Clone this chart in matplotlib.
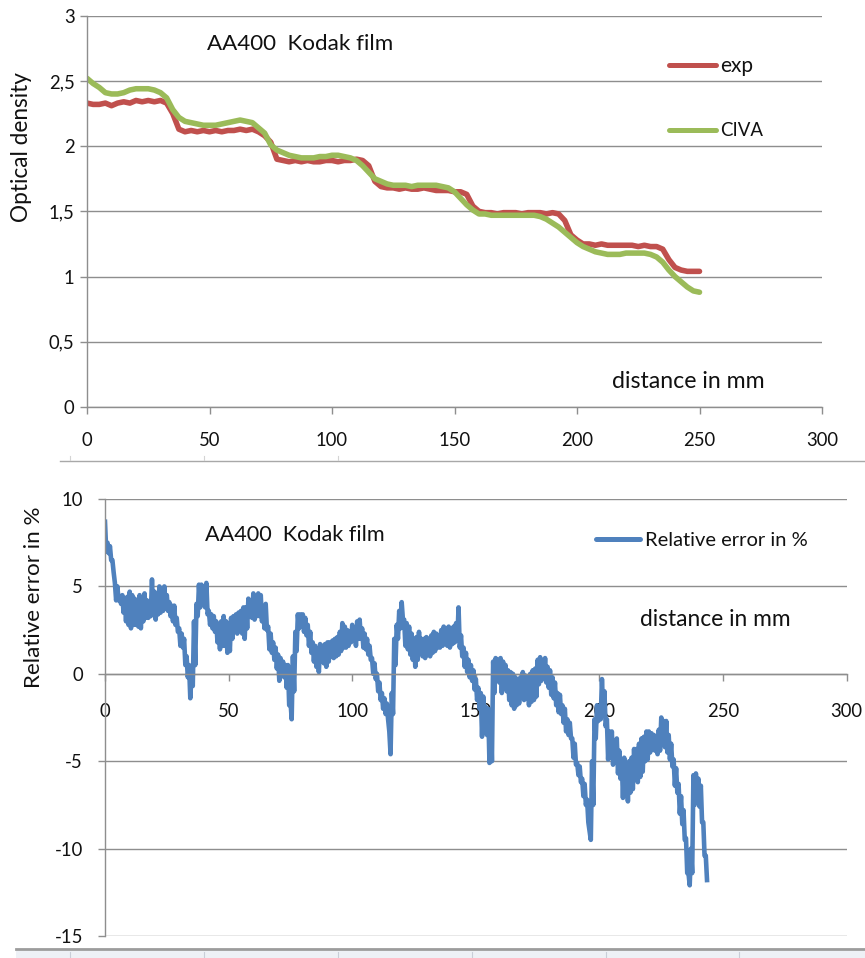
import numpy as np
import matplotlib
matplotlib.use('Agg')
import matplotlib.pyplot as plt
from matplotlib.lines import Line2D
from matplotlib.patches import Rectangle

plt.rcParams['font.family'] = ['Lato', 'DejaVu Sans']

# ---------------- data ----------------
x_ticks = [0, 50, 100, 150, 200, 250, 300]
od_ticks = [0, 0.5, 1, 1.5, 2, 2.5, 3]
od_tick_labels = ['0', '0,5', '1', '1,5', '2', '2,5', '3']
err_ticks = [10, 5, 0, -5, -10, -15]
err_tick_labels = ['10', '5', '0', '-5', '-10', '-15']

# optical density, sampled every 2.5 mm from 0 to 250 mm
od_x = np.arange(0, 250.01, 2.5)
exp_od = [2.33, 2.32, 2.32, 2.33, 2.31, 2.33, 2.34, 2.33, 2.35, 2.34,
          2.35, 2.34, 2.35, 2.33, 2.25, 2.13, 2.11, 2.12, 2.11, 2.12,
          2.11, 2.12, 2.11, 2.12, 2.12, 2.13, 2.12, 2.13, 2.11, 2.08,
          2.03, 1.90, 1.89, 1.88, 1.89, 1.88, 1.89, 1.88, 1.88, 1.89,
          1.89, 1.88, 1.89, 1.89, 1.90, 1.89, 1.85, 1.73, 1.69, 1.68,
          1.68, 1.67, 1.68, 1.67, 1.67, 1.68, 1.67, 1.66, 1.66, 1.66,
          1.65, 1.65, 1.63, 1.54, 1.50, 1.49, 1.49, 1.48, 1.49, 1.49,
          1.49, 1.48, 1.49, 1.49, 1.49, 1.48, 1.49, 1.48, 1.43, 1.32,
          1.28, 1.25, 1.25, 1.24, 1.25, 1.24, 1.24, 1.24, 1.24, 1.24,
          1.23, 1.24, 1.23, 1.23, 1.21, 1.13, 1.07, 1.05, 1.04, 1.04,
          1.04]
civa_od = [2.52, 2.48, 2.45, 2.41, 2.40, 2.40, 2.41, 2.43, 2.44, 2.44,
           2.44, 2.43, 2.41, 2.37, 2.28, 2.22, 2.19, 2.18, 2.17, 2.16,
           2.16, 2.16, 2.17, 2.18, 2.19, 2.20, 2.19, 2.18, 2.14, 2.10,
           2.01, 1.97, 1.95, 1.93, 1.92, 1.91, 1.91, 1.91, 1.92, 1.92,
           1.93, 1.93, 1.92, 1.91, 1.89, 1.85, 1.80, 1.75, 1.73, 1.71,
           1.70, 1.70, 1.70, 1.69, 1.70, 1.70, 1.70, 1.70, 1.69, 1.68,
           1.65, 1.60, 1.55, 1.51, 1.48, 1.48, 1.47, 1.47, 1.47, 1.47,
           1.47, 1.47, 1.47, 1.47, 1.46, 1.44, 1.41, 1.38, 1.34, 1.30,
           1.26, 1.23, 1.21, 1.19, 1.18, 1.17, 1.17, 1.17, 1.18, 1.18,
           1.18, 1.18, 1.17, 1.15, 1.11, 1.05, 1.00, 0.96, 0.92, 0.89,
           0.88]

# relative error: upper and lower edge of the noisy trace, per mm (0..243)
err_hi = [8.7, 7.5, 7.3, 6.5, 5.2, 5.0, 4.4, 4.5, 4.3, 4.4,
          4.7, 4.5, 4.3, 4.2, 4.5, 4.3, 4.6, 4.2, 4.0, 5.4,
          4.7, 4.5, 5.0, 4.9, 5.0, 4.5, 4.1, 3.9, 3.9, 3.2,
          2.6, 2.3, 2.0, 1.0, 0.5, 0.0, 3.0, 4.0, 5.1, 5.1,
          5.0, 5.2, 3.6, 3.4, 3.3, 3.0, 2.7, 3.0, 3.3, 3.0,
          2.9, 3.2, 3.3, 3.4, 3.5, 3.6, 3.8, 3.8, 4.3, 4.0,
          4.6, 4.4, 4.6, 4.5, 3.8, 4.0, 2.7, 2.3, 1.8, 1.5,
          1.1, 0.9, 0.7, 0.5, 0.5, -1.5, 1.0, 2.4, 3.4, 3.4,
          3.4, 3.2, 2.8, 2.4, 1.8, 1.6, 1.2, 1.7, 1.6, 1.7,
          1.8, 1.8, 1.9, 2.0, 2.1, 2.4, 2.9, 2.7, 2.5, 2.4,
          2.8, 2.6, 3.0, 3.1, 2.6, 2.3, 2.0, 1.6, 0.9, 0.6,
          0.0, -0.5, -1.1, -1.4, -1.7, -3.3, -1.1, 2.0, 2.8, 3.6,
          4.1, 3.1, 2.9, 2.7, 2.3, 2.0, 2.1, 2.4, 2.0, 2.0,
          2.1, 2.0, 2.2, 2.4, 2.3, 2.2, 2.5, 2.7, 2.6, 2.7,
          2.6, 2.7, 2.9, 3.8, 2.2, 1.5, 1.2, 0.8, 0.5, 0.2,
          -0.3, -0.8, -1.1, -1.3, -1.9, -2.0, -2.2, 0.7, 0.9, 0.8,
          0.9, 0.7, 0.5, 0.2, 0.1, 0.0, -0.2, -0.5, -0.2, 0.1,
          -0.1, -0.2, 0.0, 0.2, 0.3, 0.8, 0.95, 0.6, 0.9, 0.4,
          0.2, -0.2, -0.5, -1.1, -1.2, -1.8, -2.0, -2.6, -2.8, -3.7,
          -4.0, -5.1, -5.3, -6.0, -6.3, -7.2, -9.0, -5.0, -2.6, -1.8,
          -1.9, -0.3, -1.0, -2.6, -3.3, -3.3, -3.8, -3.7, -4.4, -4.9,
          -4.8, -5.5, -5.0, -4.8, -4.3, -4.3, -4.0, -3.7, -3.6, -3.3,
          -3.3, -3.4, -3.5, -3.6, -3.2, -2.5, -2.7, -2.7, -3.5, -4.0,
          -4.9, -5.4, -6.3, -7.0, -7.8, -9.4, -11.4, -10.0, -5.8, -5.7,
          -6.0, -6.4, -8.5, -10.4]
err_lo = [7.0, 6.9, 6.5, 5.8, 4.2, 4.2, 4.0, 3.5, 3.0, 2.8,
          2.6, 2.8, 2.8, 2.7, 2.6, 3.0, 3.2, 3.2, 3.3, 3.4,
          3.1, 3.4, 3.5, 3.6, 3.8, 3.6, 3.3, 3.0, 2.8, 2.4,
          1.6, 1.5, 0.5, -0.2, -1.4, -0.7, 0.5, 3.3, 3.8, 4.4,
          3.8, 3.4, 2.8, 2.6, 2.4, 1.8, 1.4, 1.6, 1.6, 1.2,
          1.3, 2.0, 2.4, 2.3, 2.6, 2.3, 2.0, 2.6, 3.3, 3.2,
          3.1, 3.3, 3.3, 3.0, 2.6, 2.5, 1.4, 1.2, 0.8, 0.3,
          -0.4, -0.1, -0.2, -0.8, -1.8, -2.6, -1.0, 1.3, 2.6, 2.7,
          2.4, 2.2, 1.6, 1.2, 0.7, 0.4, 0.1, 0.8, 0.6, 0.4,
          0.7, 1.0, 0.9, 1.0, 1.1, 1.3, 1.5, 1.5, 1.6, 1.8,
          1.9, 1.6, 2.0, 2.0, 1.5, 1.4, 1.1, 0.8, 0.0, -0.3,
          -1.0, -1.5, -2.0, -2.3, -2.6, -4.6, -2.3, 0.5, 2.0, 2.6,
          3.1, 1.6, 1.4, 1.1, 0.8, 0.4, 0.8, 1.2, 1.0, 0.9,
          1.1, 1.0, 1.2, 1.3, 1.5, 1.5, 1.6, 1.7, 1.6, 1.5,
          1.7, 1.8, 1.9, 1.5, 1.0, 0.4, 0.1, -0.2, -0.4, -0.9,
          -1.5, -2.0, -3.6, -2.5, -3.5, -5.1, -5.0, -1.1, -0.2, -0.5,
          -1.1, -0.6, -1.0, -1.5, -1.8, -2.0, -1.8, -1.7, -1.2, -1.5,
          -1.4, -1.8, -1.6, -1.5, -1.3, -0.6, -0.4, -0.2, -0.5, -0.8,
          -1.2, -1.4, -1.8, -2.2, -2.3, -2.8, -3.3, -3.5, -3.7, -4.8,
          -5.2, -5.8, -6.2, -7.0, -7.5, -8.5, -9.5, -7.5, -3.7, -2.7,
          -2.6, -2.0, -3.0, -4.9, -4.8, -5.2, -5.0, -5.7, -6.0, -7.1,
          -6.8, -7.3, -6.8, -6.6, -6.0, -6.2, -5.9, -5.6, -5.0, -4.9,
          -4.5, -4.3, -4.4, -4.6, -4.4, -3.7, -4.2, -4.5, -4.9, -5.3,
          -6.4, -6.8, -8.0, -8.6, -9.5, -11.4, -12.1, -11.4, -7.5, -7.0,
          -7.6, -8.5, -10.4, -11.8]

n = min(len(err_hi), len(err_lo))
err_mm = np.arange(n)
err_x = np.empty(2 * n)
err_x[0::2] = err_mm
err_x[1::2] = err_mm + 0.5
err_vals = np.empty(2 * n)
err_vals[0::2] = err_hi[:n]
err_vals[1::2] = err_lo[:n]

# ---------------- figure ----------------
W, H = 865, 958
fig = plt.figure(figsize=(W / 100, H / 100), dpi=100)
renderer = fig.canvas.get_renderer()

def fx(px):
    return px / W

def fy(py):
    return 1 - py / H

GRID = '#8e8e8e'
RED = '#C0504D'
GREEN = '#9BBB59'
BLUE = '#4F81BD'
TXT = '#111111'

# tick label size: "300" should be about 32 px wide
probe = fig.text(0, 0, '300', fontsize=10)
tick_fs = 10 * 32.0 / probe.get_window_extent(renderer).width
probe.remove()

def fit_w(t, w):
    bb = t.get_window_extent(renderer)
    t.set_fontsize(t.get_fontsize() * w / bb.width)

def fit_h(t, h):
    bb = t.get_window_extent(renderer)
    t.set_fontsize(t.get_fontsize() * h / bb.height)

def style_axes(ax):
    for s in ['top', 'right']:
        ax.spines[s].set_visible(False)
    for s in ['left', 'bottom']:
        ax.spines[s].set_color(GRID)
        ax.spines[s].set_linewidth(1.0)
    ax.grid(axis='y', color=GRID, lw=1.0)
    ax.grid(axis='x', visible=False)
    ax.set_axisbelow(True)
    ax.tick_params(axis='both', direction='out', length=5, width=1.0,
                   color=GRID, labelsize=tick_fs, labelcolor=TXT)

# ---- top chart: optical density ----
ax1 = fig.add_axes([fx(87), fy(407), (822 - 87) / W, (407 - 15.7) / H])
ax1.plot(od_x, exp_od, color=RED, lw=4.0, solid_capstyle='round', label='exp')
ax1.plot(od_x, civa_od, color=GREEN, lw=4.0, solid_capstyle='round', label='CIVA')
ax1.set_xlim(0, 300)
ax1.set_ylim(0, 3)
ax1.set_xticks(x_ticks)
ax1.set_yticks(od_ticks)
ax1.set_yticklabels(od_tick_labels)
style_axes(ax1)
ax1.tick_params(axis='x', pad=13)
ax1.tick_params(axis='y', pad=4)
yl1 = ax1.set_ylabel('Optical density', color=TXT, va='center', fontsize=17)
ax1.yaxis.set_label_coords((22 - 87) / 735, (407 - 147) / 391.3)
fit_h(yl1, 150)

t = fig.text(fx(207), fy(50), 'AA400  Kodak film', ha='left', va='baseline',
             fontsize=17, color=TXT)
fit_w(t, 186)
t = fig.text(fx(612), fy(388), 'distance in mm', ha='left', va='baseline',
             fontsize=17, color=TXT)
fit_w(t, 153)

# legend (top)
fig.add_artist(Line2D([fx(669), fx(716)], [fy(65), fy(65)], color=RED, lw=3.6,
                      solid_capstyle='round'))
t = fig.text(fx(720), fy(71.5), 'exp', ha='left', va='baseline', fontsize=15, color=TXT)
fit_w(t, 33)
fig.add_artist(Line2D([fx(669), fx(716)], [fy(130), fy(130)], color=GREEN, lw=3.6,
                      solid_capstyle='round'))
t = fig.text(fx(720), fy(136.5), 'CIVA', ha='left', va='baseline', fontsize=15, color=TXT)
fit_w(t, 43)

# ---- bottom chart: relative error ----
ax2 = fig.add_axes([fx(105), fy(936), (846.7 - 105) / W, (936 - 499) / H])
ax2.plot(err_x, err_vals, color=BLUE, lw=3.3, solid_joinstyle='round',
         label='Relative error in %')
ax2.set_xlim(0, 300)
ax2.set_ylim(-15, 10)
ax2.set_xticks(x_ticks)
ax2.set_yticks(err_ticks)
ax2.set_yticklabels(err_tick_labels)
style_axes(ax2)
ax2.spines['bottom'].set_position(('data', 0))
ax2.tick_params(axis='x', pad=16)
ax2.tick_params(axis='y', pad=11)
yl2 = ax2.set_ylabel('Relative error in %', color=TXT, va='center', fontsize=17)
ax2.yaxis.set_label_coords((34 - 105) / 741.7, (936 - 597) / 437.0)
fit_h(yl2, 181)

t = fig.text(fx(205), fy(541), 'AA400  Kodak film', ha='left', va='baseline',
             fontsize=17, color=TXT)
fit_w(t, 180)
t = fig.text(fx(640), fy(625.5), 'distance in mm', ha='left', va='baseline',
             fontsize=17, color=TXT)
fit_w(t, 150)

fig.add_artist(Line2D([fx(596), fx(640)], [fy(539), fy(539)], color=BLUE, lw=3.6,
                      solid_capstyle='round'))
t = fig.text(fx(645), fy(546), 'Relative error in %', ha='left', va='baseline',
             fontsize=15, color=TXT)
fit_w(t, 163)

# ---- separators of the page ----
fig.add_artist(Line2D([fx(60), fx(865)], [fy(461), fy(461)], color='#a8a8a8', lw=1.0))
for px in [70, 204, 338]:
    fig.add_artist(Line2D([fx(px), fx(px)], [fy(456), fy(460)], color='#d4d4d4', lw=0.8))
fig.add_artist(Rectangle((fx(16), 0), 1 - fx(16), fy(951), transform=fig.transFigure,
                         facecolor='#eef1f6', edgecolor='none'))
fig.add_artist(Line2D([fx(16), fx(865)], [fy(949), fy(949)], color='#9c9c9c', lw=2.0))
for px in [70, 204, 338, 472, 606, 739]:
    fig.add_artist(Line2D([fx(px), fx(px)], [fy(952), fy(958)], color='#c9ced8', lw=0.8))

fig.savefig('out.png', dpi=100)
